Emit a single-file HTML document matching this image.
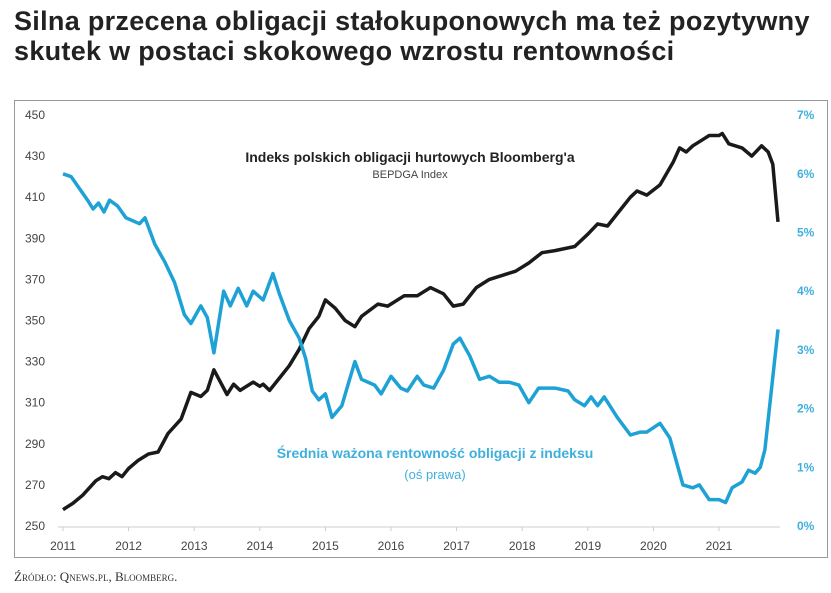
<!DOCTYPE html>
<html><head><meta charset="utf-8"><style>
body{margin:0;background:#fff;width:831px;height:593px;overflow:hidden;font-family:"Liberation Sans",sans-serif}
.t{position:absolute;left:14px;top:6px;font-weight:bold;font-size:27px;line-height:30px;color:#222;letter-spacing:0.3px;white-space:nowrap}
</style></head><body>
<div class="t">Silna przecena obligacji stałokuponowych ma też pozytywny<br>skutek w postaci skokowego wzrostu rentowności</div>
<svg width="831" height="593" style="position:absolute;left:0;top:0">
<rect x="14.5" y="100.5" width="813" height="457" fill="none" stroke="#999" stroke-width="1"/>
<g id="yl" font-size="12" fill="#444" font-family="Liberation Sans"></g>
<g id="yr" font-size="12" fill="#3fb0dc" font-family="Liberation Sans" font-weight="bold"></g>
<g id="xl" font-size="12" fill="#444" font-family="Liberation Sans" text-anchor="middle"></g>
<line x1="58" y1="527" x2="780" y2="527" stroke="#ccc"/>
<path id="bl" fill="none" stroke="#1a1a1a" stroke-width="3.5" stroke-linejoin="round"/>
<path id="bu" fill="none" stroke="#1ea2d6" stroke-width="3.5" stroke-linejoin="round"/>
<text x="410" y="162" font-size="14" font-weight="bold" fill="#222" text-anchor="middle">Indeks polskich obligacji hurtowych Bloomberg'a</text>
<text x="410" y="178" font-size="11" fill="#444" text-anchor="middle">BEPDGA Index</text>
<text x="435" y="458" font-size="14" font-weight="bold" fill="#3fb0dc" text-anchor="middle">Średnia ważona rentowność obligacji z indeksu</text>
<text x="435" y="479" font-size="13" fill="#3fb0dc" text-anchor="middle">(oś prawa)</text>
<text x="14" y="581" font-size="13" fill="#333" font-family="Liberation Serif" style="font-variant:small-caps">Źródło: Qnews.pl, Bloomberg.</text>
</svg>
<script>
var X=y=>63+(y-2011)*65.6, YL=v=>526-(v-250)*2.055, YP=p=>526-p*58.7;
var s='';for(var v=250;v<=450;v+=20)s+='<text x="25" y="'+(YL(v)+4)+'">'+v+'</text>';document.getElementById('yl').innerHTML=s;
s='';for(var p=0;p<=7;p++)s+='<text x="797" y="'+(YP(p)+4)+'">'+p+'%</text>';document.getElementById('yr').innerHTML=s;
s='';for(var y=2011;y<=2021;y++)s+='<text x="'+X(y)+'" y="550">'+y+'</text><line x1="'+X(y)+'" y1="527" x2="'+X(y)+'" y2="531" stroke="#ccc"/>';document.getElementById('xl').innerHTML=s;
var b=[[2011,258],[2011.15,261],[2011.3,265],[2011.5,272],[2011.6,274],[2011.7,273],[2011.8,276],[2011.9,274],[2012,278],[2012.15,282],[2012.3,285],[2012.45,286],[2012.6,295],[2012.8,302],[2012.95,315],[2013.1,313],[2013.2,316],[2013.3,326],[2013.4,320],[2013.5,314],[2013.6,319],[2013.7,316],[2013.9,320],[2014,318],[2014.05,319],[2014.15,316],[2014.3,322],[2014.45,328],[2014.6,336],[2014.75,346],[2014.9,352],[2015,360],[2015.15,356],[2015.3,350],[2015.45,347],[2015.55,352],[2015.8,358],[2015.95,357],[2016.2,362],[2016.4,362],[2016.6,366],[2016.8,363],[2016.95,357],[2017.1,358],[2017.3,366],[2017.5,370],[2017.7,372],[2017.9,374],[2018.1,378],[2018.3,383],[2018.5,384],[2018.8,386],[2019,392],[2019.15,397],[2019.3,396],[2019.5,404],[2019.65,410],[2019.75,413],[2019.9,411],[2020.1,416],[2020.3,427],[2020.4,434],[2020.5,432],[2020.6,435],[2020.75,438],[2020.85,440],[2021,440],[2021.05,441],[2021.15,436],[2021.35,434],[2021.5,430],[2021.65,435],[2021.75,432],[2021.82,426],[2021.9,398]];
var u=[[2011,6.0],[2011.15,5.95],[2011.3,5.75],[2011.45,5.55],[2011.55,5.4],[2011.65,5.5],[2011.75,5.35],[2011.85,5.55],[2012,5.45],[2012.15,5.25],[2012.4,5.15],[2012.5,5.25],[2012.65,4.8],[2012.8,4.5],[2012.95,4.15],[2013.1,3.6],[2013.2,3.45],[2013.35,3.75],[2013.45,3.55],[2013.55,2.95],[2013.7,4.0],[2013.8,3.75],[2013.92,4.05],[2014.05,3.75],[2014.15,4.0],[2014.3,3.85],[2014.45,4.3],[2014.55,3.95],[2014.7,3.5],[2014.85,3.2],[2014.95,2.85],[2015.05,2.3],[2015.15,2.15],[2015.25,2.25],[2015.35,1.85],[2015.5,2.05],[2015.7,2.8],[2015.8,2.5],[2016,2.4],[2016.1,2.25],[2016.25,2.55],[2016.4,2.35],[2016.5,2.3],[2016.65,2.55],[2016.75,2.4],[2016.9,2.35],[2017.05,2.65],[2017.2,3.1],[2017.3,3.2],[2017.45,2.9],[2017.6,2.5],[2017.75,2.55],[2017.9,2.45],[2018.05,2.45],[2018.2,2.4],[2018.35,2.1],[2018.5,2.35],[2018.75,2.35],[2018.95,2.3],[2019.05,2.15],[2019.2,2.05],[2019.3,2.2],[2019.4,2.05],[2019.5,2.2],[2019.7,1.85],[2019.9,1.55],[2020.05,1.6],[2020.15,1.6],[2020.35,1.75],[2020.5,1.5],[2020.7,0.7],[2020.85,0.65],[2020.95,0.7],[2021.1,0.45],[2021.25,0.45],[2021.35,0.4],[2021.45,0.65],[2021.6,0.75],[2021.7,0.95],[2021.8,0.9],[2021.88,1.0],[2021.95,1.3],[2022.05,3.35]];
function P(a,f){return 'M'+a.map(q=>X(q[0]).toFixed(1)+','+f(q[1]).toFixed(1)).join('L');}
document.getElementById('bl').setAttribute('d',P(b,YL));
u=u.map(q=>{var t=q[0];return [t-0.25*Math.min(1,(t-2011)/1.5),q[1]];});
u[u.length-1][0]=2021.9;
document.getElementById('bu').setAttribute('d',P(u,YP));
</script>
</body></html>
